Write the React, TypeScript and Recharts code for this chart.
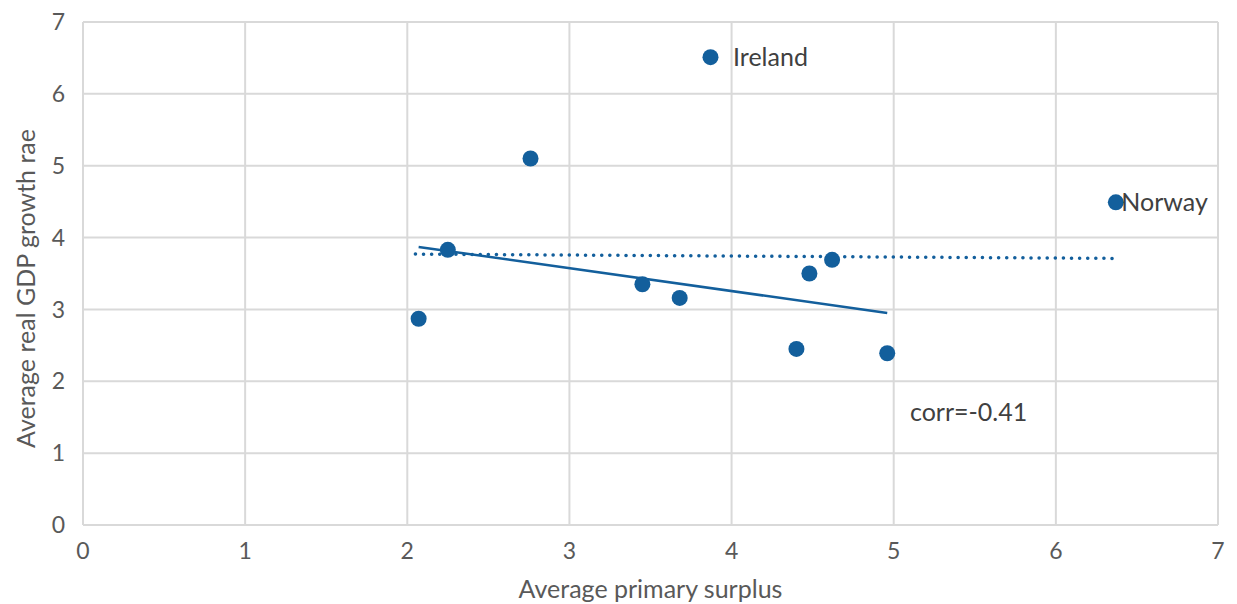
import React from 'react';
import { ScatterChart, Scatter, XAxis, YAxis, CartesianGrid, LabelList, ReferenceDot } from 'recharts';

const surplus = [2.07, 2.25, 2.76, 3.87, 3.45, 3.68, 4.4, 4.48, 4.62, 4.96, 6.37];
const growth = [2.87, 3.83, 5.1, 6.51, 3.35, 3.16, 2.45, 3.5, 3.69, 2.39, 4.49];
const countryLabels = ['', '', '', 'Ireland', '', '', '', '', '', '', 'Norway'];

const trendX = [2.07, 4.96];
const trendY = [3.87, 2.95];
const flatX = [2.05, 6.35];
const flatY = [3.77, 3.71];

const ticks = [0, 1, 2, 3, 4, 5, 6, 7];

const BLUE = '#135f9c';
const GRID = '#d9d9d9';
const FONT = 'Lato, "Open Sans", sans-serif';

const points = surplus.map((x, i) => ({ x, y: growth[i], name: countryLabels[i] }));
const trend = trendX.map((x, i) => ({ x, y: trendY[i] }));
const flat = flatX.map((x, i) => ({ x, y: flatY[i] }));

const Dot = (props: any) => <circle cx={props.cx} cy={props.cy} r={8} fill={BLUE} />;
const NoDot = () => null;

const CountryLabel = (props: any) => {
  const { x, y, width, height, value } = props;
  if (!value) return null;
  const gap = value === 'Norway' ? 1 : 18;
  return (
    <text x={x + width + gap} y={y + height / 2} dy="0.36em" fill="#404040" fontSize={25} fontFamily={FONT}>
      {value}
    </text>
  );
};

export default function App() {
  return (
    <div style={{ position: 'absolute', left: 0, top: 0, background: '#fff' }}>
      <ScatterChart width={1237} height={604} margin={{ top: 22, right: 19, left: 0, bottom: 0 }}>
        <CartesianGrid stroke={GRID} strokeWidth={2} />
        <XAxis
          type="number"
          dataKey="x"
          domain={[0, 7]}
          ticks={ticks}
          height={79}
          stroke={GRID}
          strokeWidth={2}
          tickLine={false}
          tick={{ fill: '#595959', fontSize: 23, fontFamily: FONT }}
          tickMargin={12}
          label={{ value: 'Average primary surplus', position: 'insideBottom', offset: 0, dy: -6, fill: '#595959', fontSize: 25, fontFamily: FONT }}
        />
        <YAxis
          type="number"
          dataKey="y"
          domain={[0, 7]}
          ticks={ticks}
          width={83}
          stroke={GRID}
          strokeWidth={2}
          tickLine={false}
          tick={{ fill: '#595959', fontSize: 23, fontFamily: FONT }}
          tickMargin={12}
          label={{ value: 'Average real GDP growth rae', angle: -90, position: 'insideLeft', offset: 26, dy: 15, style: { textAnchor: 'middle' }, fill: '#595959', fontSize: 25, fontFamily: FONT }}
        />
        <Scatter
          data={flat}
          line={{ stroke: BLUE, strokeWidth: 3.5, strokeDasharray: '0.1 8', strokeLinecap: 'round' }}
          shape={NoDot}
          isAnimationActive={false}
        />
        <Scatter
          data={trend}
          line={{ stroke: BLUE, strokeWidth: 2.5 }}
          shape={NoDot}
          isAnimationActive={false}
        />
        <Scatter data={points} shape={Dot} fill={BLUE} isAnimationActive={false}>
          <LabelList dataKey="name" content={CountryLabel} />
        </Scatter>
        <ReferenceDot
          x={5.1}
          y={1.57}
          r={0}
          fill="none"
          stroke="none"
          label={{ value: 'corr=-0.41', position: 'right', offset: 0, fill: '#404040', fontSize: 25, fontFamily: FONT }}
        />
      </ScatterChart>
    </div>
  );
}
